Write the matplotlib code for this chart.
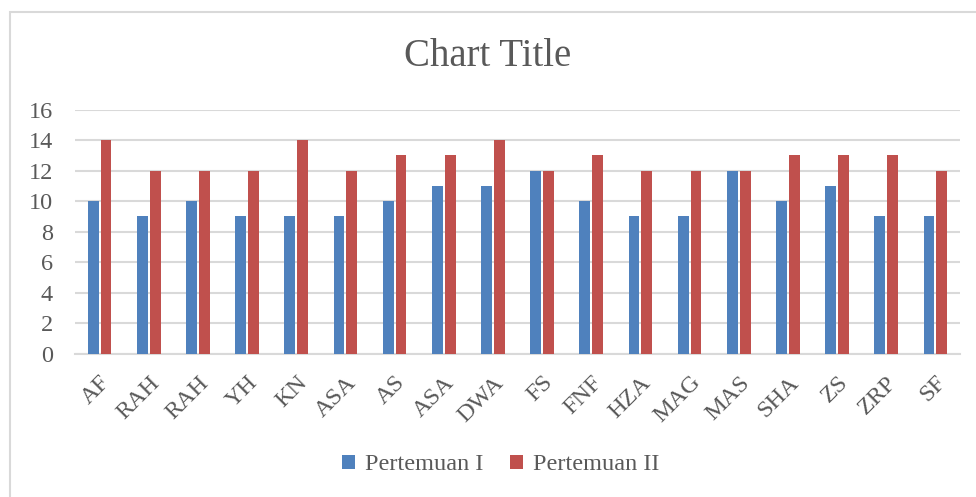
import matplotlib
matplotlib.use("Agg")
import matplotlib.pyplot as plt
import numpy as np
from matplotlib.patches import Rectangle

categories = ["AF", "RAH", "RAH", "YH", "KN", "ASA", "AS", "ASA", "DWA", "FS",
              "FNF", "HZA", "MAG", "MAS", "SHA", "ZS", "ZRP", "SF"]
pertemuan_1 = [10, 9, 10, 9, 9, 9, 10, 11, 11, 12, 10, 9, 9, 12, 10, 11, 9, 9]
pertemuan_2 = [14, 12, 12, 12, 14, 12, 13, 13, 14, 12, 13, 12, 12, 12, 13, 13, 13, 12]
series_names = ["Pertemuan I", "Pertemuan II"]
y_ticks = [0, 2, 4, 6, 8, 10, 12, 14, 16]

plt.rcParams['font.family'] = ['Liberation Serif', 'DejaVu Serif']
txt = "#595959"
grid = "#D9D9D9"

W, H = 976, 497
fig = plt.figure(figsize=(W/100, H/100), dpi=100)
ax = fig.add_axes([75/W, 1-354/H, 885/W, (354-109.5)/H])

x = np.arange(len(categories))
bw = 0.22
off = 0.132
ax.bar(x - off, pertemuan_1, bw, color="#4F81BD", label=series_names[0], zorder=3)
ax.bar(x + off, pertemuan_2, bw, color="#C0504D", label=series_names[1], zorder=3)

ax.set_xlim(-0.5, len(categories) - 0.5)
ax.set_ylim(0, 16)
ax.set_yticks(y_ticks)
ax.yaxis.grid(True, color=grid, linewidth=1.5, zorder=0)
ax.set_axisbelow(True)
for s in ["top", "right", "left"]:
    ax.spines[s].set_visible(False)
ax.spines["bottom"].set_color(grid)
ax.spines["bottom"].set_linewidth(1.5)
ax.tick_params(axis="both", length=0, colors=txt, labelsize=17.5)
ax.tick_params(axis="y", pad=16)
ax.set_xticks(x)
ax.set_xticklabels(categories, rotation=45, ha="right", va="top", rotation_mode="anchor")
ax.tick_params(axis="x", pad=13)

fig.text(0.5, 1-56/H, "Chart Title", ha="center", va="center", fontsize=28, color=txt)

leg = fig.legend(loc="center", bbox_to_anchor=(0.513, 1-465/H), ncol=2, frameon=False,
                 fontsize=17.5, labelcolor=txt, handlelength=0.55, handleheight=0.55,
                 handletextpad=0.4, columnspacing=1.1)

fig.patches.append(Rectangle((10/W, -0.1), 1.0, 1-12/H+0.1, transform=fig.transFigure,
                             fill=False, edgecolor=grid, linewidth=1.5))

fig.savefig("out.png", dpi=100)
